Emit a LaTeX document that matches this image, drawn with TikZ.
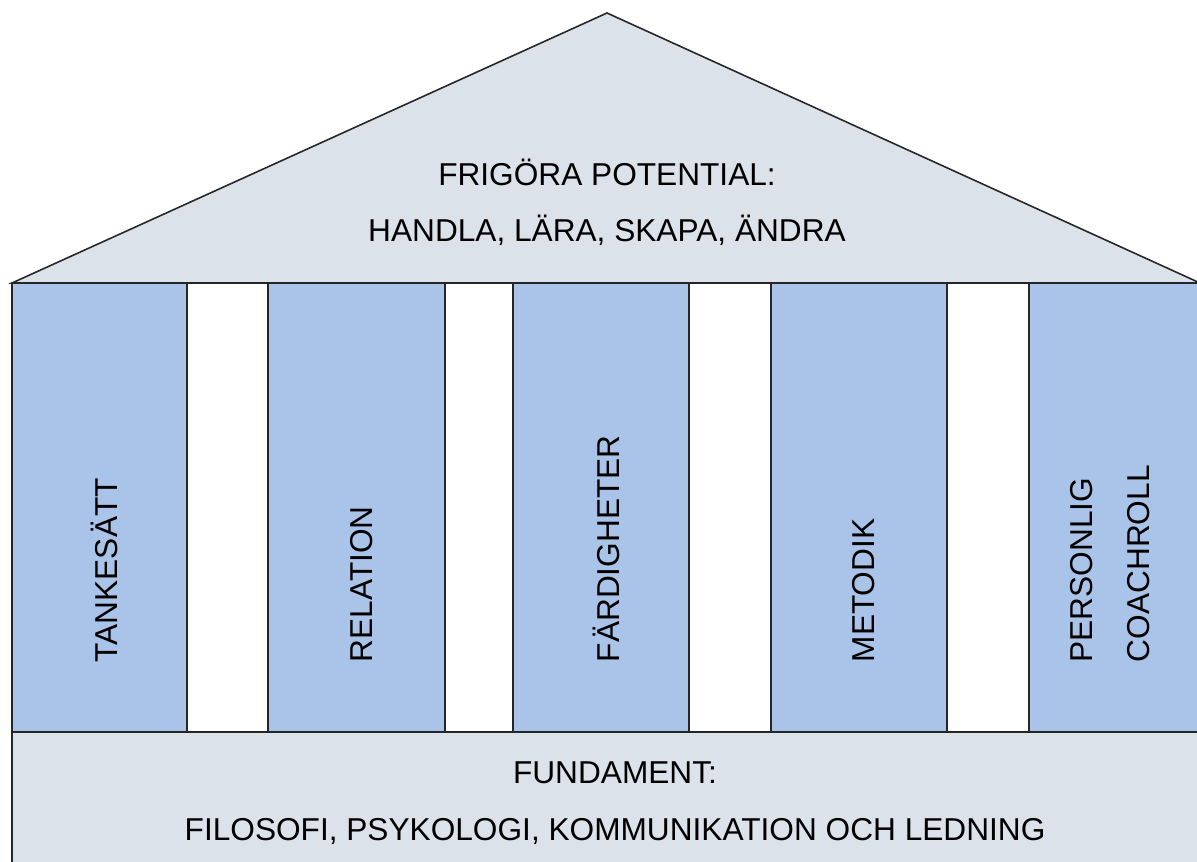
\documentclass[tikz,border=0pt]{standalone}
\usepackage{fontspec}
\setmainfont{Liberation Sans}
\usepackage{tikz}
\definecolor{roofgray}{RGB}{219,226,234}
\definecolor{pillarblue}{RGB}{169,196,232}

\begin{document}
\begin{tikzpicture}
            [line width=0.9pt, font=\fontsize{18}{32.4}\selectfont,
             roof/.style={fill=roofgray, draw=black!85},
             pillar/.style={fill=pillarblue, draw=black!85},
             gap/.style={fill=white, draw=black!85},
             pillartext/.style={rotate=90, anchor=west, inner sep=0pt}]
            \useasboundingbox (0,0) rectangle (23.94,17.22);
            \clip (0,0) rectangle (23.94,17.22);

            \coordinate (apex) at (12.14,16.96);
            \coordinate (eaveleft) at (0.24,11.56);
            \coordinate (eaveright) at (24.0,11.56);

            % roof and foundation
            \draw[roof] (eaveleft) -- (apex) -- (eaveright) -- cycle;
            \draw[roof] (0.24,-0.5) rectangle (24.0,2.58);

            % pillars and the gaps between them
            \draw[pillar] (0.24,2.58) rectangle (3.74,11.56);
            \draw[gap] (3.74,2.58) rectangle (5.36,11.56);
            \draw[pillar] (5.36,2.58) rectangle (8.90,11.56);
            \draw[gap] (8.90,2.58) rectangle (10.26,11.56);
            \draw[pillar] (10.26,2.58) rectangle (13.78,11.56);
            \draw[gap] (13.78,2.58) rectangle (15.42,11.56);
            \draw[pillar] (15.42,2.58) rectangle (18.94,11.56);
            \draw[gap] (18.94,2.58) rectangle (20.58,11.56);
            \draw[pillar] (20.58,2.58) rectangle (24.0,11.56);

            \node[anchor=base, align=center] (potential) at (12.14,12.38)
                {FRIGÖRA POTENTIAL:\\HANDLA, LÄRA, SKAPA, ÄNDRA};
            \node[anchor=base, align=center] (fundament) at (12.3,0.42)
                {FUNDAMENT:\\FILOSOFI, PSYKOLOGI, KOMMUNIKATION OCH LEDNING};

            \node[pillartext] (tankesatt) at (2.09,3.96) {TANKESÄTT};
            \node[pillartext] (relation) at (7.23,3.96) {RELATION};
            \node[pillartext] (fardigheter) at (12.12,3.96) {FÄRDIGHETER};
            \node[pillartext] (metodik) at (17.28,3.96) {METODIK};
            \node[pillartext, align=left] (coachroll) at (22.2,3.96) {PERSONLIG\\COACHROLL};
        \end{tikzpicture}
\end{document}
